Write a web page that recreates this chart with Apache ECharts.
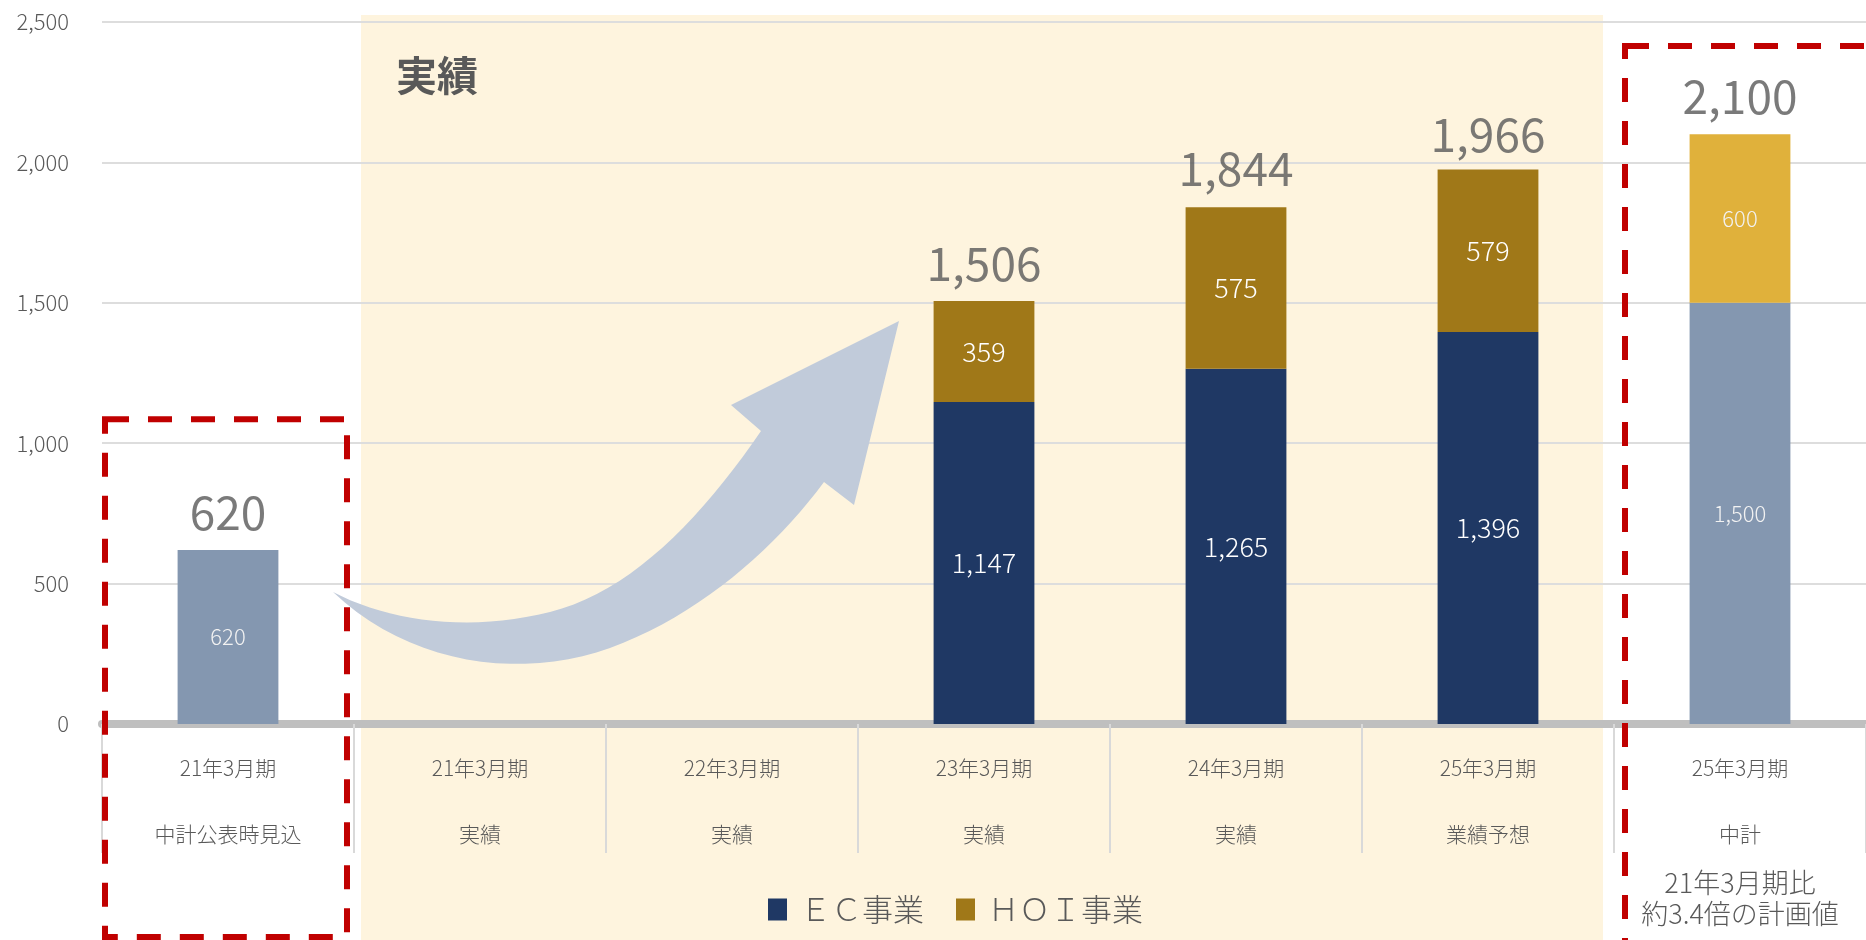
<!DOCTYPE html>
<html>

<head>
    <meta charset="utf-8">
    <title>売上高推移</title>
    <script src="https://cdn.jsdelivr.net/npm/echarts@6/dist/echarts.min.js"></script>
    <style>
        html,
        body {
            margin: 0;
            padding: 0;
            background: #ffffff;
        }

        #chart {
            width: 1866px;
            height: 940px;
        }
    </style>
</head>

<body>
    <div id="chart"></div>
    <script>
        // x axis: period + kind (two lines per category)
        const periods = ['21年3月期', '21年3月期', '22年3月期', '23年3月期', '24年3月期', '25年3月期', '25年3月期'];
        const kinds = ['中計公表時見込', '実績', '実績', '実績', '実績', '業績予想', '中計'];
        const planNote = ['21年3月期比', '約3.4倍の計画値'];

        // series values
        const planEcValues = [620, null, null, null, null, null, 1500];
        const planHoiValues = [null, null, null, null, null, null, 600];
        const ecValues = [null, null, null, 1147, 1265, 1396, null];
        const hoiValues = [null, null, null, 359, 575, 579, null];
        const totals = [620, null, null, 1506, 1844, 1966, 2100];

        const yTicks = { min: 0, max: 2500, interval: 500 };

        const font = '"Noto Sans CJK JP", "Noto Sans", sans-serif';
        const grey = '#595959';
        const categories = periods.map((p, i) => p + '\n' + kinds[i]);
        const fmt = v => (v == null ? '' : Number(v).toLocaleString('en-US'));

        function innerLabel(size, color) {
            return {
                show: true,
                position: 'inside',
                fontSize: size,
                color: color,
                fontFamily: font,
                fontWeight: 300,
                formatter: p => fmt(p.value)
            };
        }

        const chart = echarts.init(document.getElementById('chart'));

        const option = {
            animation: false,
            textStyle: { fontFamily: font },
            title: {
                text: '実績',
                left: 391,
                top: 50,
                textStyle: { fontSize: 41, fontWeight: 'bold', color: grey, fontFamily: font }
            },
            legend: {
                data: ['ＥＣ事業', 'ＨＯＩ事業'],
                left: 763,
                top: 889,
                icon: 'rect',
                itemWidth: 19,
                itemHeight: 22,
                itemGap: 32,
                textStyle: { fontSize: 31, color: grey, fontFamily: font, fontWeight: 300, padding: [0, 0, 0, 8] }
            },
            grid: { left: 102, right: 0, top: 22, bottom: 216 },
            xAxis: {
                type: 'category',
                data: categories,
                offset: 4,
                axisLine: { lineStyle: { color: '#BFBFBF', width: 8 } },
                axisTick: { show: true, length: 129, lineStyle: { color: '#D9D9D9', width: 2 } },
                axisLabel: {
                    interval: 0,
                    margin: 7,
                    fontSize: 21,
                    lineHeight: 66,
                    color: grey,
                    fontFamily: font,
                    fontWeight: 300,
                    formatter: function (value, index) {
                        let s = periods[index] + '\n' + kinds[index];
                        if (index === periods.length - 1) {
                            s += '\n' + planNote.map(t => '{b|' + t + '}').join('\n');
                        }
                        return s;
                    },
                    rich: {
                        b: { fontSize: 27, lineHeight: 31, color: grey, fontFamily: font, fontWeight: 300 }
                    }
                }
            },
            yAxis: {
                type: 'value',
                min: yTicks.min,
                max: yTicks.max,
                interval: yTicks.interval,
                axisLine: { show: false },
                axisTick: { show: false },
                axisLabel: { margin: 33, fontSize: 22, color: grey, fontFamily: font, fontWeight: 300, formatter: fmt },
                splitLine: { lineStyle: { color: '#DDDDDD', width: 2 } }
            },
            series: [
                {
                    name: '中計・見込（EC）',
                    type: 'bar',
                    stack: 'sales',
                    barWidth: '40%',
                    data: planEcValues,
                    itemStyle: { color: '#8497B0' },
                    label: innerLabel(22, '#F2F2F2')
                },
                {
                    name: 'ＥＣ事業',
                    type: 'bar',
                    stack: 'sales',
                    barWidth: '40%',
                    data: ecValues,
                    itemStyle: { color: '#1F3864' },
                    label: innerLabel(27, '#FFFFFF')
                },
                {
                    name: 'ＨＯＩ事業',
                    type: 'bar',
                    stack: 'sales',
                    barWidth: '40%',
                    data: hoiValues,
                    itemStyle: { color: '#A07818' },
                    label: innerLabel(27, '#FFFFFF')
                },
                {
                    name: '中計（HOI）',
                    type: 'bar',
                    stack: 'sales',
                    barWidth: '40%',
                    data: planHoiValues,
                    itemStyle: { color: '#E0B13B' },
                    label: innerLabel(22, '#F2F2F2')
                },
                {
                    name: '合計',
                    type: 'scatter',
                    data: totals,
                    symbolSize: 1,
                    itemStyle: { color: 'rgba(0,0,0,0)' },
                    z: 5,
                    label: {
                        show: true,
                        position: 'top',
                        distance: 14,
                        fontSize: 46,
                        color: grey,
                        fontFamily: font,
                        fontWeight: 400,
                        formatter: p => fmt(p.value)
                    }
                }
            ]
        };

        chart.setOption(option);

        // decorations placed from the chart's own scales
        const cx = i => chart.convertToPixel({ xAxisIndex: 0 }, categories[i]);
        const cy = v => chart.convertToPixel({ yAxisIndex: 0 }, v);
        const band = cx(1) - cx(0);
        const H = chart.getHeight();

        const bgLeft = cx(1) - band / 2 + 7;
        const bgRight = cx(5) + band / 2 - 11;

        // curved block arrow, sampled from cubic curves into a polygon
        function cubic(p0, p1, p2, p3, n) {
            const pts = [];
            for (let k = 1; k <= n; k++) {
                const t = k / n, u = 1 - t;
                pts.push([
                    u * u * u * p0[0] + 3 * u * u * t * p1[0] + 3 * u * t * t * p2[0] + t * t * t * p3[0],
                    u * u * u * p0[1] + 3 * u * u * t * p1[1] + 3 * u * t * t * p2[1] + t * t * t * p3[1]
                ]);
            }
            return pts;
        }
        const arrow = [[333, 592]]
            .concat(cubic([333, 592], [390, 622], [470, 632], [550, 612], 20))
            .concat(cubic([550, 612], [630, 592], [700, 520], [761, 431], 20))
            .concat([[731, 405], [899, 321], [854, 505], [824, 482]])
            .concat(cubic([824, 482], [775, 548], [700, 615], [610, 648], 20))
            .concat(cubic([610, 648], [520, 680], [410, 665], [333, 592], 20));

        chart.setOption({
            graphic: [
                {
                    type: 'rect',
                    z: -1,
                    silent: true,
                    shape: { x: bgLeft, y: cy(2500) - 7, width: bgRight - bgLeft, height: H },
                    style: { fill: '#FEF4DE' }
                },
                {
                    type: 'polygon',
                    z: 10,
                    silent: true,
                    shape: { points: arrow },
                    style: { fill: '#C1CBDA' }
                },
                {
                    type: 'rect',
                    z: 100,
                    silent: true,
                    shape: {
                        x: cx(0) - band / 2 + 3,
                        y: cy(1000) - 24,
                        width: band - 10,
                        height: H - 3 - (cy(1000) - 24)
                    },
                    style: { fill: 'none', stroke: '#C00000', lineWidth: 6, lineDash: [24, 19] }
                },
                {
                    type: 'rect',
                    z: 100,
                    silent: true,
                    shape: {
                        x: cx(6) - band / 2 + 11,
                        y: cy(2500) + 24,
                        width: band + 40,
                        height: H
                    },
                    style: { fill: 'none', stroke: '#C00000', lineWidth: 6, lineDash: [24, 19] }
                }
            ]
        });
    </script>
</body>

</html>
